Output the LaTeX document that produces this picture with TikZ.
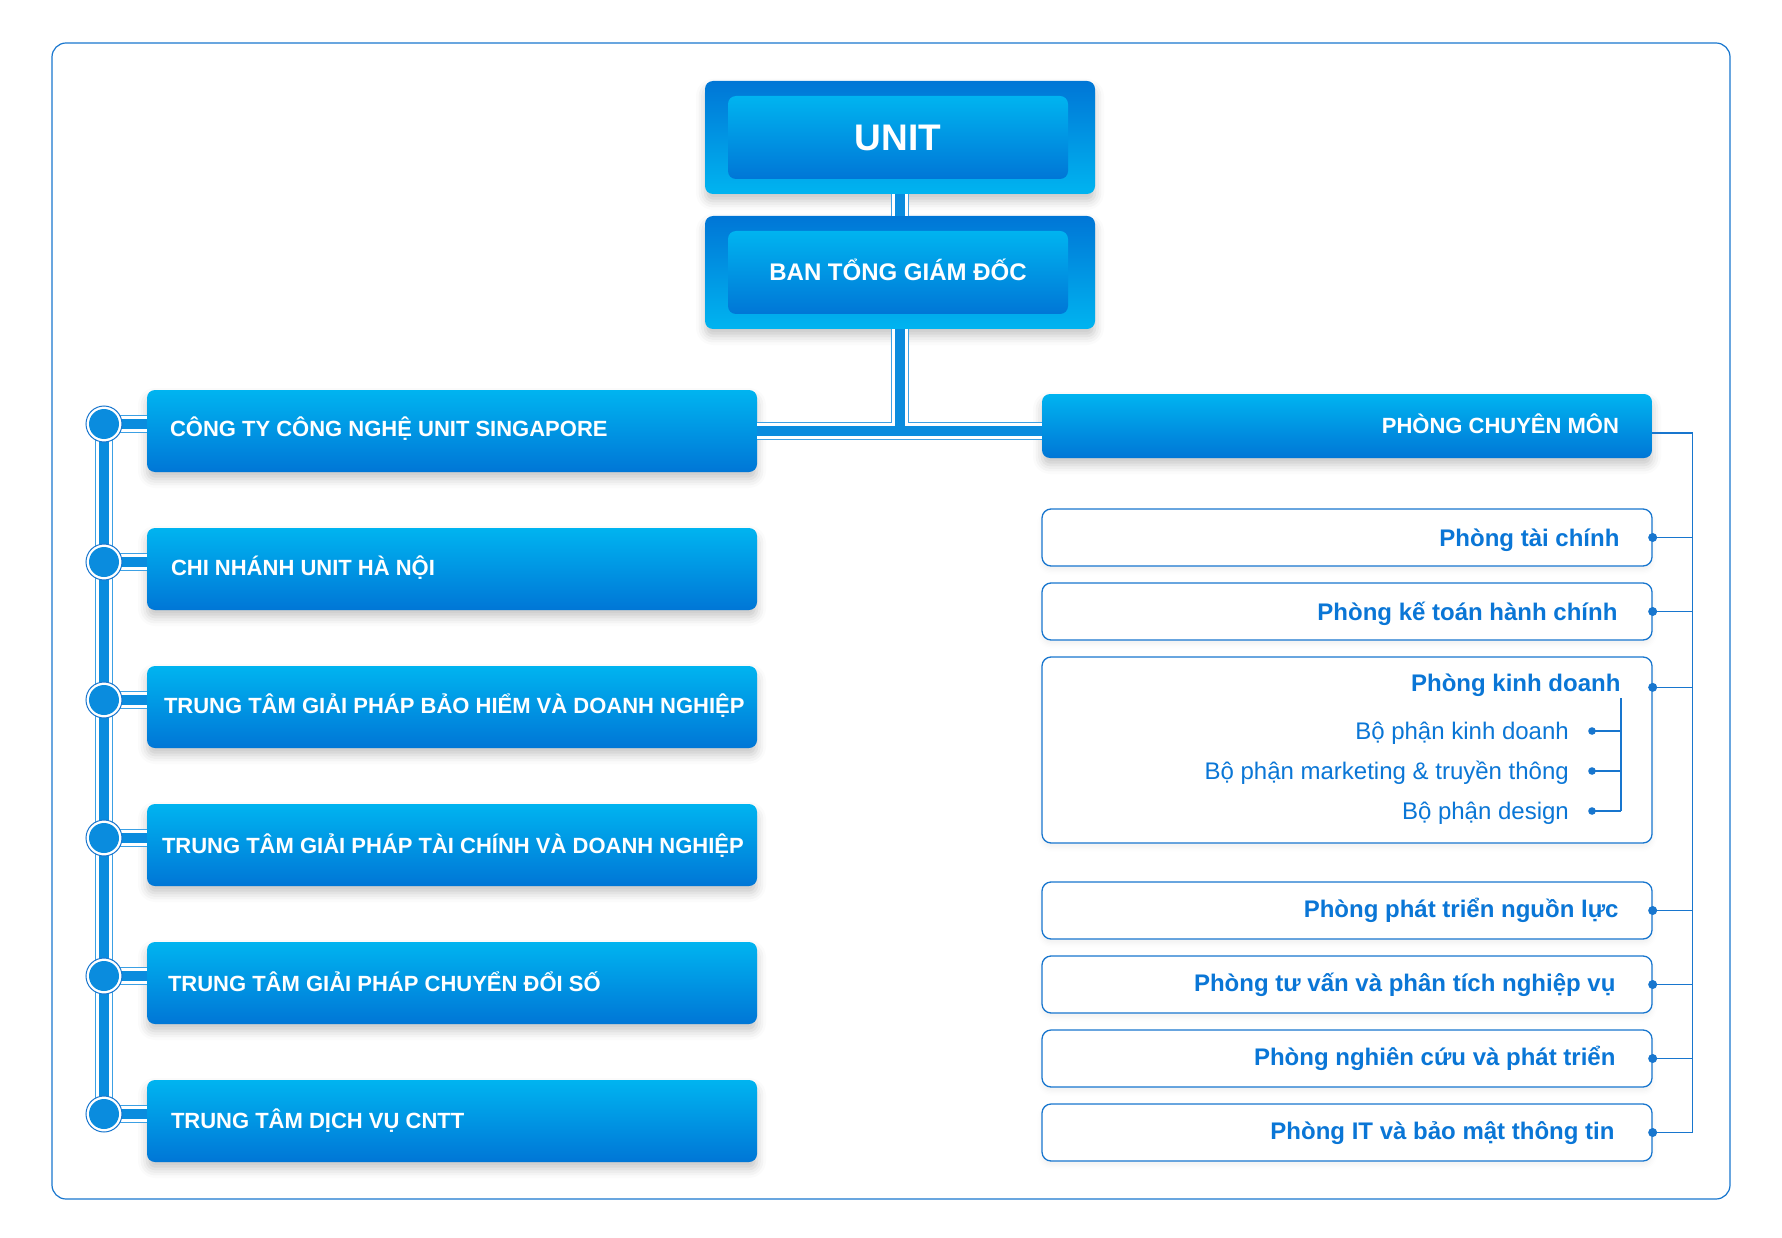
\documentclass[tikz,border=0pt]{standalone}
\usepackage{fontspec}
\setmainfont{Liberation Sans}
\usetikzlibrary{shadows.blur,calc}
\definecolor{cLight}{RGB}{0,180,240}
\definecolor{cDark}{RGB}{0,118,214}
\definecolor{cLine}{RGB}{24,118,206}
\definecolor{cText}{RGB}{10,118,214}
\definecolor{cBar}{RGB}{10,140,222}
\definecolor{cOut}{RGB}{60,160,228}
\newcommand\myconnpaths{(unitf.south) -- (banf.north)
  (banf.south) -- (banf.south |- b1.east)
  (b1.east) -- (b1.east -| pcm.west)
  (c1) -- (c6)
  (c1) -- (c1 -| b1.west) (c2) -- (c2 -| b2.west) (c3) -- (c3 -| b3.west)
  (c4) -- (c4 -| b4.west) (c5) -- (c5 -| b5.west) (c6) -- (c6 -| b6.west)}
\begin{document}
\begin{tikzpicture}[x=1pt,y=-1pt,
  shd/.style={blur shadow={shadow xshift=0pt, shadow yshift=-7pt, shadow blur radius=9pt, shadow opacity=22}},
  bluebox/.style={rounded corners=8pt, top color=cLight, bottom color=cDark, draw=none, inner sep=0pt, shd},
  outerbox/.style={rounded corners=8pt, top color=cDark, bottom color=cLight, draw=none, inner sep=0pt, minimum width=390pt, minimum height=113pt, shd},
  innerbox/.style={rounded corners=8pt, top color=cLight, bottom color=cDark, draw=none, inner sep=0pt, minimum width=340pt, minimum height=83pt, text=white, font=\bfseries\fontsize{24}{28}\selectfont, text height=17pt, text depth=0pt},
  leftbox/.style={bluebox, minimum width=610pt, minimum height=82pt},
  btext/.style={text=white, font=\bfseries\fontsize{22}{26}\selectfont, inner sep=0pt, text height=16pt, text depth=0pt},
  whitebox/.style={draw=cLine, line width=1.3pt, rounded corners=9pt, fill=white, minimum width=610pt, inner sep=0pt, blur shadow={shadow xshift=0pt, shadow yshift=-4pt, shadow blur radius=5pt, shadow opacity=6}},
  wtext/.style={text=cText, font=\bfseries\fontsize{24}{28}\selectfont, inner sep=0pt, text height=17.5pt, text depth=0pt, anchor=east},
  subtext/.style={text=cText, font=\fontsize{24}{28}\selectfont, inner sep=0pt, text height=17.5pt, text depth=0pt, anchor=east},
  thinline/.style={draw=cLine, line width=1.3pt},
  barout/.style={draw=cOut, line width=1.2pt, double=white, double distance=15.5pt},
  barcore/.style={draw=cBar, line width=10pt},
  ring/.style={circle, draw=cLine, line width=1pt, fill=white, minimum size=36pt, inner sep=0pt}
]
\useasboundingbox (0,0) rectangle (1782,1238);
\node[draw=cLine, line width=1.2pt, rounded corners=14pt, minimum width=1678pt, minimum height=1156pt, inner sep=0pt] (frame) at (891,621) {};

% top boxes
\node[outerbox] (unitf) at (900,137.5) {};
\node[innerbox, font=\bfseries\fontsize{37}{40}\selectfont, text height=26.5pt] (unit) at (898,137.5) {UNIT};
\node[outerbox] (banf) at (900,272.5) {};
\node[innerbox] (ban) at (898,272.5) {BAN TỔNG GIÁM ĐỐC};

% left boxes
\node[leftbox] (b1) at (452,431) {};
\node[leftbox] (b2) at (452,569) {};
\node[leftbox] (b3) at (452,707) {};
\node[leftbox] (b4) at (452,845) {};
\node[leftbox] (b5) at (452,983) {};
\node[leftbox] (b6) at (452,1121) {};
\node[btext, anchor=west] (t1) at ([xshift=23pt,yshift=3pt]b1.west) {CÔNG TY CÔNG NGHỆ UNIT SINGAPORE};
\node[btext, anchor=west] (t2) at ([xshift=24pt,yshift=2pt]b2.west) {CHI NHÁNH UNIT HÀ NỘI};
\node[btext, anchor=west] (t3) at ([xshift=17pt,yshift=2pt]b3.west) {TRUNG TÂM GIẢI PHÁP BẢO HIỂM VÀ DOANH NGHIỆP};
\node[btext, anchor=west] (t4) at ([xshift=15pt,yshift=0pt]b4.west) {TRUNG TÂM GIẢI PHÁP TÀI CHÍNH VÀ DOANH NGHIỆP};
\node[btext, anchor=west] (t5) at ([xshift=21pt,yshift=0pt]b5.west) {TRUNG TÂM GIẢI PHÁP CHUYỂN ĐỔI SỐ};
\node[btext, anchor=west] (t6) at ([xshift=24pt,yshift=1pt]b6.west) {TRUNG TÂM DỊCH VỤ CNTT};

% right header
\node[bluebox, minimum width=610pt, minimum height=64pt] (pcm) at (1347,426) {};
\node[btext, anchor=east] (pcmt) at ([xshift=-33pt,yshift=1pt]pcm.east) {PHÒNG CHUYÊN MÔN};

% white boxes
\node[whitebox, minimum height=57pt] (w1) at (1347,537.5) {};
\node[whitebox, minimum height=57pt] (w2) at (1347,611.5) {};
\node[whitebox, minimum height=186pt] (kd) at (1347,750) {};
\node[whitebox, minimum height=57pt] (w4) at (1347,910.5) {};
\node[whitebox, minimum height=57pt] (w5) at (1347,984.5) {};
\node[whitebox, minimum height=57pt] (w6) at (1347,1058.5) {};
\node[whitebox, minimum height=57pt] (w7) at (1347,1132.5) {};
\node[wtext] (wt1) at ([xshift=-33pt]w1.east) {Phòng tài chính};
\node[wtext] (wt2) at ([xshift=-35pt]w2.east) {Phòng kế toán hành chính};
\node[wtext] (kdt) at ([xshift=-32pt,yshift=-26pt]kd.north east) {Phòng kinh doanh};
\node[wtext] (wt4) at ([xshift=-34pt,yshift=1.5pt]w4.east) {Phòng phát triển nguồn lực};
\node[wtext] (wt5) at ([xshift=-37pt,yshift=1.5pt]w5.east) {Phòng tư vấn và phân tích nghiệp vụ};
\node[wtext] (wt6) at ([xshift=-37pt,yshift=1.5pt]w6.east) {Phòng nghiên cứu và phát triển};
\node[wtext] (wt7) at ([xshift=-38pt,yshift=1.5pt]w7.east) {Phòng IT và bảo mật thông tin};
\node[subtext] (s1) at (1569,731) {Bộ phận kinh doanh};
\node[subtext] (s2) at (1569,771) {Bộ phận marketing \& truyền thông};
\node[subtext] (s3) at (1569,811) {Bộ phận design};

% thick connectors
\coordinate (c1) at (104,424);
\coordinate (c2) at (104,562);
\coordinate (c3) at (104,700);
\coordinate (c4) at (104,838);
\coordinate (c5) at (104,976);
\coordinate (c6) at (104,1114);
\draw[barout] \myconnpaths;
\draw[barcore] \myconnpaths;
\foreach \i in {1,...,6}{
  \node[ring] (r\i) at (c\i) {};
  \fill[cBar] (c\i) circle (15pt);
}

% right bracket
\coordinate (brtop) at ([xshift=40pt,yshift=-7pt]pcm.east);
\coordinate (kdd) at ([yshift=-31pt]kd.north east);
\draw[thinline] ([yshift=-7pt]pcm.east) -- (brtop) -- (brtop |- w7.east) -- (w7.east);
\foreach \n in {w1,w2,kdd,w4,w5,w6}{
  \draw[thinline] (\n.east) -- (\n.east -| brtop);
}
\foreach \n in {w1,w2,w4,w5,w6,w7}{
  \fill[cLine] (\n.east) circle (4.5pt);
}
\fill[cLine] (kdd) circle (4.5pt);

% sub bracket
\coordinate (sd1) at ([xshift=23pt]s1.east);
\coordinate (sd2) at ([xshift=23pt]s2.east);
\coordinate (sd3) at ([xshift=23pt]s3.east);
\coordinate (sbt) at (1621,698);
\draw[thinline] (sbt) -- (sbt |- sd3);
\foreach \n in {sd1,sd2,sd3}{
  \draw[thinline] (\n) -- (\n -| sbt);
  \fill[cLine] (\n) circle (3.8pt);
}
\end{tikzpicture}
\end{document}
